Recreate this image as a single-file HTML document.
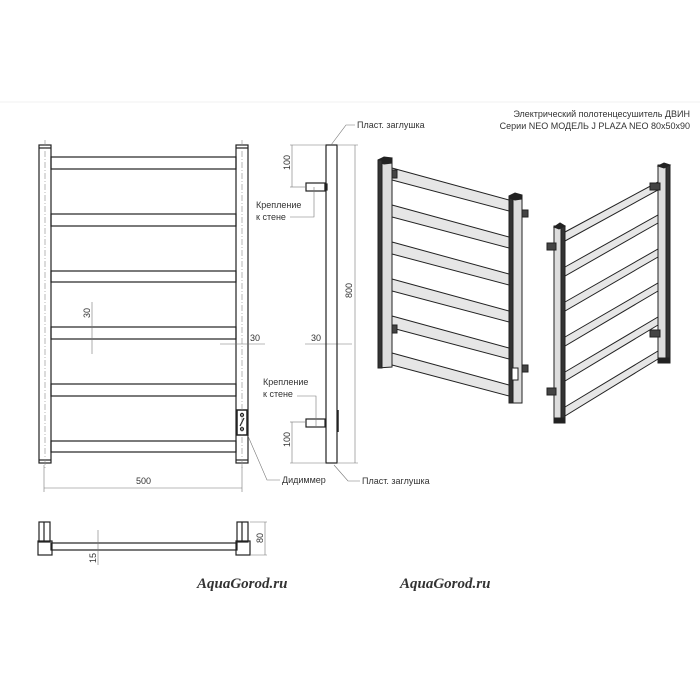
<!DOCTYPE html>
<html><head><meta charset="utf-8"><style>
html,body{margin:0;padding:0;background:#fff}
svg{display:block}
text{font-family:"Liberation Sans","DejaVu Sans",sans-serif;fill:#333}
</style></head><body>
<svg width="700" height="700" viewBox="0 0 700 700" xmlns="http://www.w3.org/2000/svg">
<rect width="700" height="700" fill="#fff"/>
<line x1="0" y1="102" x2="700" y2="102" stroke="#f0f0f0"/>
<!-- FRONT VIEW -->
<g stroke="#222" stroke-width="1.2" fill="none">
<rect x="39" y="145" width="12" height="318"/>
<rect x="236" y="145" width="12" height="318"/>
<rect x="51" y="157" width="185" height="12"/>
<rect x="51" y="214" width="185" height="12"/>
<rect x="51" y="271" width="185" height="11"/>
<rect x="51" y="327" width="185" height="12"/>
<rect x="51" y="384" width="185" height="12"/>
<rect x="51" y="441" width="185" height="11"/>
<line x1="39" y1="148" x2="51" y2="148"/><line x1="236" y1="148" x2="248" y2="148"/>
<line x1="39" y1="460" x2="51" y2="460"/><line x1="236" y1="460" x2="248" y2="460"/>
<rect x="237" y="410" width="10" height="25" stroke-width="1.5"/>
<circle cx="242" cy="415" r="1.5"/><circle cx="242" cy="429" r="1.5"/>
<line x1="240" y1="426" x2="244" y2="418"/>
</g>
<g stroke="#888" stroke-width="0.6" stroke-dasharray="6,2,1,2" fill="none">
<line x1="45" y1="140" x2="45" y2="468"/><line x1="242" y1="140" x2="242" y2="468"/>
</g>
<g stroke="#777" stroke-width="0.6" fill="none">
<line x1="44" y1="465" x2="44" y2="492"/><line x1="242" y1="465" x2="242" y2="492"/>
<line x1="44" y1="488" x2="242" y2="488"/>
<line x1="92" y1="302" x2="92" y2="354"/>
<line x1="220" y1="344" x2="265" y2="344"/>
<line x1="305" y1="344" x2="352" y2="344"/>
</g>
<text x="136" y="484" font-size="9" fill="#666">500</text>
<text x="0" y="0" font-size="9" fill="#666" transform="translate(90,318) rotate(-90)">30</text>
<text x="250" y="341" font-size="9" fill="#666">30</text>
<text x="311" y="341" font-size="9" fill="#666">30</text>
<!-- SIDE VIEW -->
<g stroke="#222" stroke-width="1.2" fill="none">
<rect x="326" y="145" width="11" height="318"/>
<rect x="306" y="183" width="19" height="8"/>
<rect x="325" y="184" width="2" height="6"/>
<rect x="306" y="419" width="19" height="8"/>
<line x1="338" y1="410" x2="338" y2="432" stroke-width="1.5"/>
</g>
<g stroke="#777" stroke-width="0.6" fill="none">
<line x1="290" y1="145" x2="326" y2="145"/><line x1="290" y1="187" x2="306" y2="187"/>
<line x1="292" y1="145" x2="292" y2="187"/>
<line x1="290" y1="422" x2="306" y2="422"/><line x1="290" y1="463" x2="326" y2="463"/>
<line x1="292" y1="422" x2="292" y2="463"/>
<line x1="337" y1="145" x2="358" y2="145"/><line x1="337" y1="463" x2="358" y2="463"/>
<line x1="355" y1="145" x2="355" y2="463"/>
<polyline points="314,187 314,217 290,217"/>
<polyline points="316,427 316,396 297,396"/>
<polyline points="331,145 346,125 355,125"/>
<polyline points="334,465 348,481 360,481"/>
<polyline points="248,436 267,480 280,480"/>
</g>
<text x="0" y="0" font-size="9" fill="#666" transform="translate(290,170) rotate(-90)">100</text>
<text x="0" y="0" font-size="9" fill="#666" transform="translate(290,447) rotate(-90)">100</text>
<text x="0" y="0" font-size="9" fill="#666" transform="translate(352,298) rotate(-90)">800</text>
<text x="256" y="208" font-size="9">Крепление</text>
<text x="256" y="220" font-size="9">к стене</text>
<text x="263" y="385" font-size="9">Крепление</text>
<text x="263" y="397" font-size="9">к стене</text>
<text x="282" y="483" font-size="9">Дидиммер</text>
<text x="357" y="128" font-size="9">Пласт. заглушка</text>
<text x="362" y="484" font-size="9">Пласт. заглушка</text>
<text x="690" y="117" font-size="9" text-anchor="end">Электрический полотенцесушитель ДВИН</text>
<text x="690" y="129" font-size="9" text-anchor="end">Серии NEO МОДЕЛЬ J PLAZA NEO 80x50x90</text>
<!-- ISO LEFT -->
<g stroke="#222" stroke-width="1" >
<polygon points="378,160 392,158 392,367 378,368" fill="#ddd"/>
<polygon points="378,160 384,157 392,158 392,163 384,164 378,162" fill="#222"/>
<rect x="378" y="160" width="4" height="208" fill="#333"/>
<g fill="#e6e6e6">
<polygon points="392,168 509,200 509,211 392,180"/>
<polygon points="392,205 509,237 509,248 392,217"/>
<polygon points="392,242 509,274 509,285 392,254"/>
<polygon points="392,279 509,311 509,322 392,291"/>
<polygon points="392,316 509,348 509,359 392,328"/>
<polygon points="392,353 509,385 509,396 392,365"/>
</g>
<polygon points="509,196 522,195 522,403 509,403" fill="#ddd"/>
<rect x="509" y="196" width="4" height="207" fill="#333"/>
<polygon points="509,196 515,193 522,195 522,199 515,200 509,198" fill="#222"/>
<rect x="522" y="210" width="6" height="7" fill="#444"/>
<rect x="522" y="365" width="6" height="7" fill="#444"/>
<rect x="392" y="170" width="5" height="8" fill="#444"/>
<rect x="392" y="325" width="5" height="8" fill="#444"/>
<rect x="512" y="368" width="6" height="12" fill="#fff"/>
</g>
<!-- ISO RIGHT -->
<g stroke="#222" stroke-width="1">
<polygon points="658,165 670,165 670,363 658,363" fill="#ddd"/>
<rect x="666" y="165" width="4" height="198" fill="#333"/>
<polygon points="658,166 664,163 670,165 664,168" fill="#222"/>
<rect x="658" y="358" width="12" height="5" fill="#222"/>
<g fill="#e6e6e6">
<polygon points="565,232 658,182 658,190 565,241"/>
<polygon points="565,267 658,215 658,223 565,276"/>
<polygon points="565,302 658,249 658,257 565,311"/>
<polygon points="565,337 658,283 658,291 565,346"/>
<polygon points="565,372 658,317 658,325 565,381"/>
<polygon points="565,407 658,351 658,359 565,416"/>
</g>
<polygon points="554,226 565,226 565,423 554,423" fill="#ddd"/>
<rect x="561" y="226" width="4" height="197" fill="#333"/>
<polygon points="554,227 560,223 565,226 559,229" fill="#222"/>
<rect x="554" y="418" width="11" height="5" fill="#222"/>
<rect x="547" y="243" width="9" height="7" fill="#444"/>
<rect x="547" y="388" width="9" height="7" fill="#444"/>
<rect x="650" y="183" width="10" height="7" fill="#444"/>
<rect x="650" y="330" width="10" height="7" fill="#444"/>
</g>
<!-- BOTTOM VIEW -->
<g stroke="#222" stroke-width="1.2" fill="none">
<rect x="51" y="543" width="186" height="7"/>
<rect x="39" y="522" width="11" height="20"/>
<rect x="38" y="541" width="14" height="14"/>
<rect x="237" y="522" width="11" height="20"/>
<rect x="236" y="541" width="14" height="14"/>
<line x1="44" y1="522" x2="44" y2="541"/><line x1="242" y1="522" x2="242" y2="541"/>
</g>
<g stroke="#777" stroke-width="0.6" fill="none">
<line x1="250" y1="522" x2="267" y2="522"/><line x1="250" y1="555" x2="267" y2="555"/>
<line x1="265" y1="522" x2="265" y2="555"/>
<line x1="98" y1="530" x2="98" y2="565"/>
</g>
<text x="0" y="0" font-size="9" fill="#666" transform="translate(263,543) rotate(-90)">80</text>
<text x="0" y="0" font-size="9" fill="#666" transform="translate(96,563) rotate(-90)">15</text>
<!-- WATERMARKS -->
<text x="197" y="588" font-family="'Liberation Serif',serif" font-size="15" font-weight="bold" font-style="italic" fill="#3b4f92" style="font-family:'Liberation Serif',serif">AquaGorod.ru</text>
<text x="400" y="588" font-size="15" font-weight="bold" font-style="italic" fill="#3b4f92" style="font-family:'Liberation Serif',serif">AquaGorod.ru</text>
</svg>
</body></html>
